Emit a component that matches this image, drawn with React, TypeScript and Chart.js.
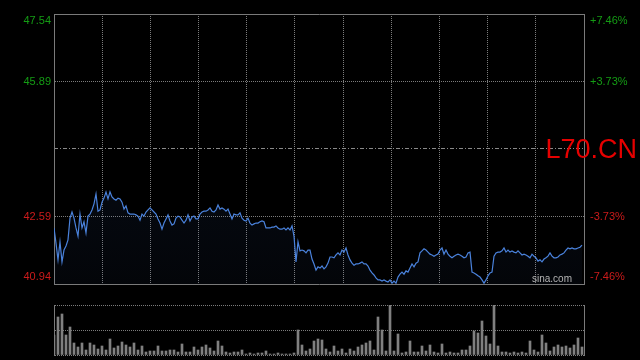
import { useEffect, useRef } from "react";
import { Chart, registerables } from "chart.js";

Chart.register(...registerables);

// ---- data ----
const stockName = "L70.CN";
const sourceMark = "sina.com";
const prevClose = 44.24;
const priceMin = 40.94;
const priceMax = 47.54;
const priceTicks = [40.94, 42.59, 44.24, 45.89, 47.54];
const sessionMinutes = 265;
const timeDivisions = 11;

const prices = [
  42.31, 41.94, 41.53, 41.97, 41.48, 41.77, 41.87, 42.02, 42.55, 42.70,
  42.55, 42.31, 42.11, 42.65, 42.31, 42.46, 42.19, 42.60, 42.65, 42.75,
  42.90, 43.14, 42.72, 42.75, 42.94, 43.04, 43.19, 43.02, 43.19, 43.07,
  43.02, 42.99, 43.04, 43.02, 42.94, 42.77, 42.85, 42.68, 42.65, 42.65,
  42.65, 42.63, 42.60, 42.50, 42.65, 42.60, 42.70, 42.75, 42.80, 42.75,
  42.70, 42.65, 42.53, 42.43, 42.28, 42.43, 42.53, 42.63, 42.48, 42.38,
  42.41, 42.55, 42.60, 42.58, 42.50, 42.43, 42.50, 42.63, 42.48, 42.58,
  42.60, 42.53, 42.53, 42.65, 42.70, 42.72, 42.72, 42.75, 42.80, 42.72,
  42.70, 42.75, 42.87, 42.77, 42.80, 42.77, 42.72, 42.77, 42.65, 42.53,
  42.65, 42.63, 42.63, 42.68, 42.55, 42.50, 42.48, 42.55, 42.43, 42.38,
  42.41, 42.43, 42.43, 42.46, 42.48, 42.46, 42.31, 42.31, 42.31, 42.33,
  42.33, 42.36, 42.31, 42.28, 42.28, 42.31, 42.26, 42.31, 42.26, 42.36,
  42.11, 41.48, 41.97, 41.75, 41.77, 41.75, 41.70, 41.77, 41.77, 41.55,
  41.43, 41.28, 41.36, 41.33, 41.38, 41.31, 41.36, 41.45, 41.60, 41.60,
  41.58, 41.65, 41.70, 41.65, 41.77, 41.72, 41.82, 41.65, 41.53, 41.45,
  41.40, 41.43, 41.43, 41.45, 41.48, 41.43, 41.43, 41.38, 41.28, 41.21,
  41.16, 41.09, 41.04, 41.04, 41.01, 41.04, 41.01, 40.99, 41.04, 40.96,
  41.01, 40.96, 41.11, 41.18, 41.23, 41.18, 41.26, 41.23, 41.33, 41.43,
  41.36, 41.45, 41.48, 41.70, 41.75, 41.80, 41.77, 41.72, 41.67, 41.65,
  41.62, 41.65, 41.67, 41.77, 41.82, 41.67, 41.77, 41.67, 41.62, 41.58,
  41.62, 41.65, 41.67, 41.65, 41.62, 41.58, 41.60, 41.70, 41.72, 41.23,
  41.21, 41.18, 41.14, 41.11, 41.04, 40.96, 41.04, 41.14, 41.21, 41.23,
  41.62, 41.70, 41.72, 41.72, 41.75, 41.82, 41.72, 41.77, 41.72, 41.75,
  41.72, 41.70, 41.75, 41.70, 41.65, 41.67, 41.65, 41.62, 41.58, 41.67,
  41.62, 41.58, 41.50, 41.53, 41.48, 41.55, 41.58, 41.62, 41.70, 41.62,
  41.58, 41.58, 41.60, 41.65, 41.67, 41.70, 41.77, 41.82, 41.80, 41.82,
  41.80, 41.80, 41.82, 41.84, 41.89,
];

// one volume bar every 2 minutes
const volumeStep = 2;
const volumes = [
  2000, 3800, 4100, 2000, 2800, 1200, 800, 1200, 500, 1200,
  1000, 600, 900, 500, 1600, 700, 900, 1300, 1000, 800,
  1200, 500, 900, 300, 400, 400, 900, 400, 400, 500,
  500, 300, 1100, 300, 300, 800, 500, 800, 1000, 700,
  400, 1400, 900, 300, 200, 300, 300, 500, 100, 200,
  100, 200, 200, 400, 100, 100, 200, 100, 100, 100,
  200, 2500, 1000, 400, 600, 1400, 1600, 1500, 600, 300,
  900, 400, 600, 200, 600, 400, 800, 1000, 1200, 1400,
  500, 3800, 2500, 400, 5000, 400, 2100, 200, 300, 1400,
  300, 300, 900, 400, 1000, 300, 200, 1100, 200, 300,
  200, 200, 500, 500, 900, 2400, 2200, 3400, 1900, 1100,
  5000, 900, 300, 300, 200, 300, 200, 300, 200, 1400,
  500, 300, 2000, 1200, 400, 800, 1000, 800, 900, 700,
  1000, 1700, 800,
];
const volumeMax = 5000;
const volumeTicks = [0, 2500, 5000];

// ---- styles ----
const FONT = "'Liberation Sans', Arial, Helvetica, sans-serif";
const UP = "#149c14";
const DOWN = "#cc1b1b";
const NAME_RED = "#e60000";
const FRAME = "#7a7a7a";
const GRID = "#7c7c7c";
const MID = "#8a8a8a";
const LINE = "#4a82dc";
const VOL = "#808080";
const CLEAR = "rgba(0,0,0,0)";

const minutes = prices.map((_, i) => i);
const volumeMinutes = volumes.map((_, i) => i * volumeStep);

const wrapEdge = (label: string, value: number): string | string[] =>
  value === priceMax ? ["", label] : value === priceMin ? [label, ""] : label;

const pctLabel = (v: number) => {
  const p = ((v - prevClose) / prevClose) * 100;
  return (p > 0 ? "+" : "") + p.toFixed(2) + "%";
};

export default function App() {
  const priceRef = useRef<HTMLCanvasElement | null>(null);
  const volRef = useRef<HTMLCanvasElement | null>(null);

  useEffect(() => {
    document.body.style.margin = "0";
    document.body.style.background = "#000";
    if (!priceRef.current || !volRef.current) return;

    const priceChart = new Chart(priceRef.current, {
      type: "line",
      data: {
        labels: minutes,
        datasets: [
          {
            data: prices,
            xAxisID: "x",
            yAxisID: "y",
            borderColor: LINE,
            borderWidth: 1.2,
            pointRadius: 0,
            tension: 0,
            fill: "start",
            backgroundColor: (ctx: any) => {
              const { chart } = ctx;
              const area = chart.chartArea;
              if (!area) return "rgba(60,100,180,0.08)";
              const g = chart.ctx.createLinearGradient(0, area.top, 0, area.bottom);
              g.addColorStop(0, "rgba(60,100,180,0.16)");
              g.addColorStop(1, "rgba(60,100,180,0.05)");
              return g;
            },
          },
        ],
      },
      options: {
        animation: false,
        responsive: false,
        maintainAspectRatio: false,
        events: [],
        layout: { padding: { top: 14, bottom: 16, left: 0, right: 0 } },
        plugins: { legend: { display: false }, tooltip: { enabled: false } },
        scales: {
          x: {
            type: "linear",
            position: "bottom",
            min: 0,
            max: sessionMinutes,
            bounds: "data",
            offset: false,
            afterBuildTicks: (s: any) => {
              s.ticks = Array.from({ length: timeDivisions + 1 }, (_, k) => ({
                value: (k * sessionMinutes) / timeDivisions,
              }));
            },
            afterFit: (s: any) => {
              s.height = 0;
              s.paddingLeft = 0;
              s.paddingRight = 0;
            },
            ticks: { display: false },
            grid: {
              drawTicks: false,
              color: (c: any) => (c.index === 0 || c.index === timeDivisions ? CLEAR : GRID),
            },
            border: { display: true, color: FRAME, dash: [1, 1] },
          },
          xTop: {
            type: "linear",
            position: "top",
            min: 0,
            max: sessionMinutes,
            ticks: { display: false },
            grid: { display: false, drawTicks: false },
            border: { display: true, color: FRAME },
            afterFit: (s: any) => {
              s.height = 0;
            },
          },
          y: {
            type: "linear",
            position: "left",
            min: priceMin,
            max: priceMax,
            bounds: "data",
            afterBuildTicks: (s: any) => {
              s.ticks = priceTicks.map((value) => ({ value }));
            },
            afterFit: (s: any) => {
              s.width = 54;
              s.paddingTop = 0;
              s.paddingBottom = 0;
            },
            grid: {
              drawTicks: false,
              color: (c: any) => {
                const v = c.tick ? c.tick.value : NaN;
                return v === prevClose || v === priceMin || v === priceMax ? CLEAR : GRID;
              },
            },
            border: { display: true, color: FRAME, dash: [1, 1] },
            ticks: {
              autoSkip: false,
              padding: 3,
              font: { family: FONT, size: 11 },
              color: (c: any) => (c.tick && c.tick.value > prevClose ? UP : DOWN),
              callback: (v: any) => {
                const n = Number(v);
                return n === prevClose ? "" : wrapEdge(n.toFixed(2), n);
              },
            },
          },
          y1: {
            type: "linear",
            position: "right",
            weight: 0,
            min: priceMin,
            max: priceMax,
            bounds: "data",
            afterBuildTicks: (s: any) => {
              s.ticks = priceTicks.map((value) => ({ value }));
            },
            afterFit: (s: any) => {
              s.width = 56;
              s.paddingTop = 0;
              s.paddingBottom = 0;
            },
            grid: {
              drawTicks: false,
              drawOnChartArea: true,
              color: (c: any) => (c.tick && c.tick.value === prevClose ? MID : CLEAR),
            },
            border: { display: true, color: FRAME, dash: [4, 2, 1, 2] },
            ticks: {
              autoSkip: false,
              padding: 6,
              font: { family: FONT, size: 11 },
              color: (c: any) => (c.tick && c.tick.value > prevClose ? UP : DOWN),
              callback: (v: any) => {
                const n = Number(v);
                return n === prevClose ? "" : wrapEdge(pctLabel(n), n);
              },
            },
          },
          yName: {
            type: "linear",
            position: "right",
            weight: 1,
            min: priceMin,
            max: priceMax,
            bounds: "data",
            afterBuildTicks: (s: any) => {
              s.ticks = [{ value: prevClose }];
            },
            afterFit: (s: any) => {
              s.width = 0;
              s.paddingTop = 0;
              s.paddingBottom = 0;
            },
            grid: { display: false, drawTicks: false },
            border: { display: false },
            ticks: {
              autoSkip: false,
              mirror: true,
              padding: -3,
              labelOffset: 2,
              color: NAME_RED,
              font: { family: FONT, size: 27 },
              callback: () => stockName,
            },
          },
        },
      } as any,
    });

    const volumeChart = new Chart(volRef.current, {
      type: "bar",
      data: {
        labels: volumeMinutes,
        datasets: [
          {
            data: volumes,
            xAxisID: "x",
            yAxisID: "y",
            backgroundColor: VOL,
            borderWidth: 0,
            barThickness: 2,
          },
        ],
      },
      options: {
        animation: false,
        responsive: false,
        maintainAspectRatio: false,
        events: [],
        layout: { padding: { top: 6, bottom: 5, left: 0, right: 0 } },
        plugins: { legend: { display: false }, tooltip: { enabled: false } },
        scales: {
          x: {
            type: "linear",
            min: 0,
            max: sessionMinutes,
            offset: false,
            display: false,
          },
          y: {
            type: "linear",
            position: "left",
            min: 0,
            max: volumeMax,
            bounds: "data",
            afterBuildTicks: (s: any) => {
              s.ticks = volumeTicks.map((value) => ({ value }));
            },
            afterFit: (s: any) => {
              s.width = 54;
              s.paddingTop = 0;
              s.paddingBottom = 0;
            },
            ticks: { display: false },
            grid: { drawTicks: false, color: GRID },
            border: { display: true, color: FRAME, dash: [1, 1] },
          },
          y1: {
            type: "linear",
            position: "right",
            min: 0,
            max: volumeMax,
            ticks: { display: false },
            grid: { display: false, drawTicks: false },
            border: { display: true, color: FRAME },
            afterFit: (s: any) => {
              s.width = 56;
              s.paddingTop = 0;
              s.paddingBottom = 0;
            },
          },
        },
      } as any,
    });

    return () => {
      priceChart.destroy();
      volumeChart.destroy();
    };
  }, []);

  return (
    <div style={{ position: "relative", width: 640, height: 360, background: "#000", overflow: "hidden" }}>
      <canvas
        ref={priceRef}
        width={640}
        height={300}
        style={{ position: "absolute", left: 0, top: 0, width: 640, height: 300 }}
      />
      <canvas
        ref={volRef}
        width={640}
        height={61}
        style={{ position: "absolute", left: 0, top: 299, width: 640, height: 61 }}
      />
      <div
        style={{
          position: "absolute",
          left: 532,
          top: 273,
          fontFamily: FONT,
          fontSize: 10,
          lineHeight: "12px",
          color: "#b4b4b4",
          whiteSpace: "nowrap",
          pointerEvents: "none",
        }}
      >
        {sourceMark}
      </div>
    </div>
  );
}
